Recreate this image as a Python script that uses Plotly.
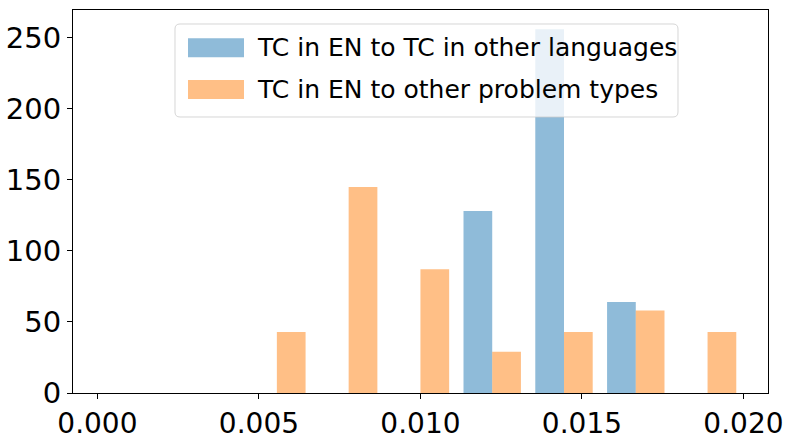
import re
import plotly.graph_objects as go

# Histogram bin edges (9 bins between 0 and 0.02)
bin_edges = [0.0, 0.0022222, 0.0044444, 0.0066667, 0.0088889,
             0.0111111, 0.0133333, 0.0155556, 0.0177778, 0.02]
# Counts per bin
counts_other_languages = [0, 0, 0, 0, 0, 128, 256, 64, 0]
counts_other_problems = [0, 0, 43, 145, 87, 29, 43, 58, 43]

series_names = ["TC in EN to TC in other languages",
                "TC in EN to other problem types"]
x_tick_vals = [0.0, 0.005, 0.010, 0.015, 0.020]
x_tick_text = ["0.000", "0.005", "0.010", "0.015", "0.020"]
y_tick_vals = [0, 50, 100, 150, 200, 250]

centers = [(a + b) / 2 for a, b in zip(bin_edges[:-1], bin_edges[1:])]

blue = "rgba(31,119,180,0.5)"
orange = "rgba(255,127,14,0.5)"

fig = go.Figure()
fig.add_trace(go.Bar(x=centers, y=counts_other_languages, name=series_names[0],
                     marker=dict(color=blue, line=dict(width=0))))
fig.add_trace(go.Bar(x=centers, y=counts_other_problems, name=series_names[1],
                     marker=dict(color=orange, line=dict(width=0))))

font_family = "DejaVu Sans"

W, H = 794, 441
L, R, T, B = 73, 26, 10, 48

fig.update_layout(
    width=W, height=H,
    margin=dict(l=L, r=R, t=T, b=B, pad=0),
    paper_bgcolor="white", plot_bgcolor="white",
    barmode="group", bargap=0.2, bargroupgap=0,
    showlegend=False,
    font=dict(family=font_family, color="black"),
    xaxis=dict(range=[-0.000756, 0.02076], tickvals=x_tick_vals, ticktext=x_tick_text,
               showline=True, mirror=True, linecolor="black", linewidth=1.2,
               ticks="outside", ticklen=5, tickcolor="black", tickwidth=1.2,
               showgrid=False, zeroline=False, tickfont=dict(size=28), automargin=False),
    yaxis=dict(range=[0, 269.5], tickvals=y_tick_vals,
               showline=True, mirror=True, linecolor="black", linewidth=1.2,
               ticks="outside", ticklen=5, tickcolor="black", tickwidth=1.2,
               showgrid=False, zeroline=False, tickfont=dict(size=29), automargin=False),
)

pw, ph = W - L - R, H - T - B

def px(x):
    return (x - L) / pw

def py(y):
    return 1 - (y - T) / ph

x0, x1, y0, y1, r = 175, 678, 24, 117, 5
path = (f"M {x0 + r},{y0} L {x1 - r},{y0} Q {x1},{y0} {x1},{y0 + r} "
        f"L {x1},{y1 - r} Q {x1},{y1} {x1 - r},{y1} L {x0 + r},{y1} "
        f"Q {x0},{y1} {x0},{y1 - r} L {x0},{y0 + r} Q {x0},{y0} {x0 + r},{y0} Z")

def conv(m):
    xv, yv = float(m.group(1)), float(m.group(2))
    return f"{px(xv):.5f},{py(yv):.5f}"

path_paper = re.sub(r"(-?[\d.]+),(-?[\d.]+)", conv, path)
fig.add_shape(type="path", path=path_paper, xref="paper", yref="paper",
              fillcolor="rgba(255,255,255,0.8)", line=dict(color="rgba(204,204,204,0.8)", width=1),
              layer="above")

for i, (name, col) in enumerate(zip(series_names, [blue, orange])):
    yc = 47.8 + i * 41.7
    fig.add_shape(type="rect", xref="paper", yref="paper",
                  x0=px(188), x1=px(244), y0=py(yc - 9.5), y1=py(yc + 9.5),
                  fillcolor=col, line=dict(width=0), layer="above")
    fig.add_annotation(text=name, xref="paper", yref="paper", x=px(255), y=py(yc),
                       xanchor="left", yanchor="middle", showarrow=False,
                       font=dict(size=25, family=font_family, color="black"))

fig.write_html("out.html", config={"displayModeBar": False},
               post_script="document.body.style.margin='0';document.body.style.overflow='hidden';")
